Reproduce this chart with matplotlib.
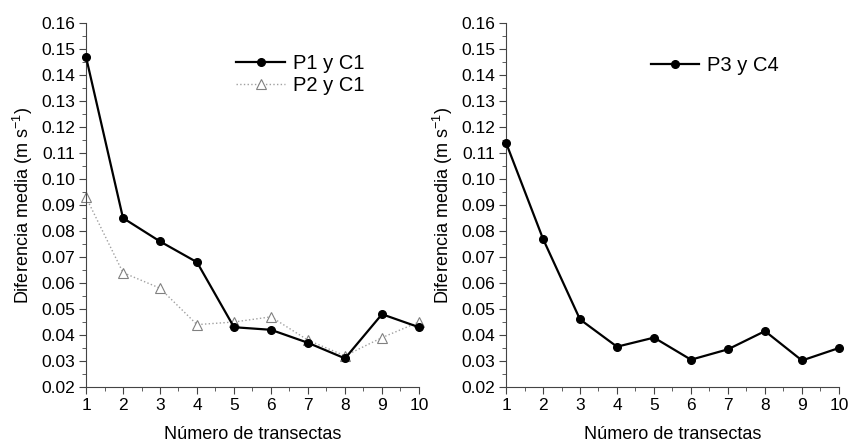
import numpy as np
import matplotlib.pyplot as plt
from matplotlib.ticker import MultipleLocator

plt.rcParams['font.family'] = ['Liberation Sans', 'DejaVu Sans']

transectas = [1, 2, 3, 4, 5, 6, 7, 8, 9, 10]
p1_c1 = [0.147, 0.085, 0.076, 0.068, 0.043, 0.042, 0.037, 0.031, 0.048, 0.043]
p2_c1 = [0.093, 0.064, 0.058, 0.044, 0.045, 0.047, 0.038, 0.032, 0.039, 0.045]
p3_c4 = [0.114, 0.077, 0.046, 0.0355, 0.039, 0.0305, 0.0345, 0.0415, 0.0302, 0.035]

fig = plt.figure(figsize=(8.49, 4.43), dpi=100)
ax1 = fig.add_axes([0.1013, 0.1264, 0.3922, 0.8216])
ax2 = fig.add_axes([0.596, 0.1264, 0.3922, 0.8216])

def estilo(ax):
    ax.set_xlim(1, 10)
    ax.set_ylim(0.02, 0.16)
    ax.xaxis.set_major_locator(MultipleLocator(1))
    ax.xaxis.set_minor_locator(MultipleLocator(0.5))
    ax.yaxis.set_major_locator(MultipleLocator(0.01))
    ax.yaxis.set_minor_locator(MultipleLocator(0.005))
    ax.yaxis.set_major_formatter(plt.FormatStrFormatter('%.2f'))
    for s in ['top', 'right']:
        ax.spines[s].set_visible(False)
    ax.spines['left'].set_color('#444444')
    ax.spines['bottom'].set_color('#444444')
    ax.tick_params(which='major', direction='out', length=5, labelsize=12.5, color='#444444', pad=3)
    ax.tick_params(which='minor', direction='out', length=3, color='#444444')
    ax.set_xlabel('Número de transectas', fontsize=13, labelpad=9)
    ax.set_ylabel('Diferencia media (m s$^{\\mathregular{-1}}$)', fontsize=13, labelpad=4)
    for lab in ax.get_xticklabels() + ax.get_yticklabels():
        lab.set_clip_on(False)

ax1.plot(transectas, p1_c1, color='black', lw=1.6, marker='o', ms=5.5,
         label='P1 y C1', clip_on=False, zorder=3)
ax1.plot(transectas, p2_c1, color='#a0a0a0', lw=1, ls=':', marker='^', ms=6.5,
         mfc='white', mec='#808080', mew=0.8, label='P2 y C1', clip_on=False, zorder=2)
estilo(ax1)
ax1.legend(loc='upper right', bbox_to_anchor=(0.89, 0.965), frameon=False, fontsize=14.5,
           handlelength=2.4, handletextpad=0.4, labelspacing=0.15)

ax2.plot(transectas, p3_c4, color='black', lw=1.6, marker='o', ms=5.5,
         label='P3 y C4', clip_on=False, zorder=3)
estilo(ax2)
ax2.legend(loc='upper right', bbox_to_anchor=(0.875, 0.96), frameon=False, fontsize=14.5,
           handlelength=2.4, handletextpad=0.4)

fig.savefig('out.png', dpi=100)
